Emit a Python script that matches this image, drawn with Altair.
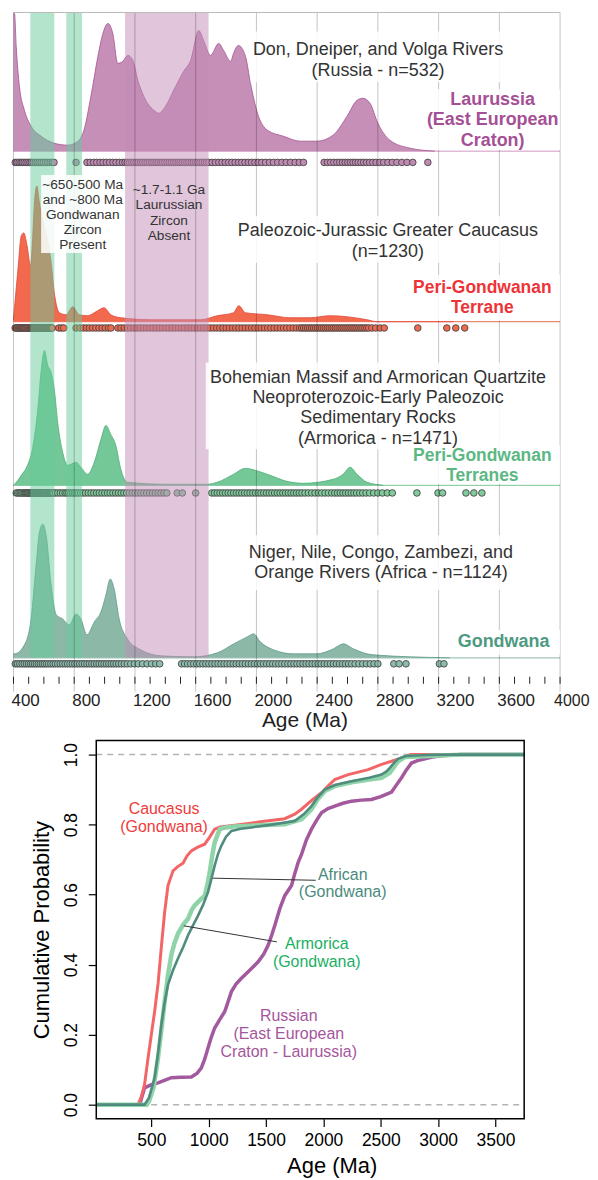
import altair as alt
import pandas as pd

FONT = "Liberation Sans"

# ============ TOP: detrital zircon age spectra (KDE) ============
# density heights are in the figure's own relative units
rus_age = [400, 407, 418, 439, 472, 516, 582, 667, 759, 825, 864, 910, 956, 989, 1022, 1054, 1087, 1120, 1153,
           1186, 1219, 1258, 1324, 1356, 1402, 1455, 1521, 1567, 1620, 1652, 1698, 1751, 1784, 1830, 1849, 1882,
           1928, 1961, 2007, 2072, 2177, 2289, 2400, 2505, 2597, 2663, 2702, 2748, 2800, 2879, 3011, 3175]
rus_den = [139, 138, 105, 65, 41, 25, 15, 8, 6, 10, 21, 55, 95, 118, 128, 118, 88, 90, 96,
           91, 71, 55, 41, 38, 45, 61, 80, 91, 121, 111, 96, 108, 101, 90, 98, 106,
           95, 68, 38, 21, 15, 10, 10, 16, 35, 51, 53, 48, 28, 11, 3, 0]

cau_age = [400, 429, 451, 468, 490, 512, 527, 538, 554, 571, 593, 615, 648, 669, 702, 746, 790, 833, 888, 954,
           997, 1041, 1107, 1304, 1632, 1742, 1849, 1884, 1928, 2070, 2223, 2354, 2485, 2728, 2794, 3300]
cau_den = [2, 52, 86, 89, 76, 56, 86, 119, 136, 119, 102, 89, 59, 29, 9, 7, 15, 7, 6, 11,
           14, 7, 4, 2, 2, 6, 9, 16, 9, 7, 4, 4, 6, 2, 0, 0]

arm_age = [400, 407, 451, 495, 527, 560, 581, 604, 626, 648, 669, 691, 724, 757, 812, 844, 888, 932, 976, 1009,
           1041, 1074, 1107, 1151, 1414, 1676, 1742, 1849, 1926, 2014, 2090, 2200, 2309, 2505, 2571, 2617, 2663,
           2729, 2835]
arm_den = [0, 1, 10, 21, 38, 76, 113, 135, 120, 113, 96, 63, 33, 20, 23, 18, 11, 23, 46, 60,
           51, 40, 16, 3, 1, 1, 3, 11, 17, 14, 10, 4, 2, 6, 11, 18, 11,
           3, 0]

afr_age = [400, 407, 472, 516, 549, 571, 593, 615, 648, 682, 724, 768, 812, 844, 884, 932, 976, 1009, 1037, 1063,
           1096, 1151, 1238, 1370, 1588, 1742, 1851, 1939, 1982, 2026, 2113, 2245, 2398, 2507, 2573, 2638, 2768,
           3274]
afr_den = [4, 4, 13, 39, 93, 126, 134, 123, 73, 43, 39, 33, 44, 39, 23, 36, 46, 63, 79, 69,
           39, 19, 8, 2, 1, 5, 14, 21, 24, 16, 8, 4, 4, 9, 14, 9, 3,
           0]

# individual grain ages shown as dots under each spectrum (as read from the rows)
rus_dots = [412, 424, 437, 449, 458, 470, 483, 495, 507, 518, 531, 544, 556, 569, 582, 596, 611, 626, 641, 655, 667,
            812,
            884, 905, 927, 948, 970, 990, 1012, 1033, 1055, 1075, 1097, 1118, 1135, 1150, 1164, 1179, 1193, 1208,
            1222, 1237, 1251, 1266, 1280, 1295, 1310, 1324, 1339, 1353, 1368, 1382, 1397, 1411, 1426, 1440, 1455,
            1469, 1484, 1498, 1513, 1527, 1542, 1556, 1571, 1585, 1600, 1614, 1629, 1643, 1658, 1672, 1687, 1708,
            1730, 1752, 1773, 1795, 1817, 1838, 1860, 1882, 1903, 1925, 1947, 1968, 1990, 2012, 2035, 2060, 2086,
            2112, 2140, 2168, 2196, 2225, 2255, 2283, 2310,
            2446, 2468, 2489, 2510, 2530, 2549, 2567, 2585, 2602, 2619, 2636, 2653, 2670, 2688, 2706, 2725, 2745,
            2766, 2788, 2812, 2838, 2866, 2895, 2925, 2958, 2992, 3030,
            3129]
cau_dots = [411, 417, 423, 429, 435, 441, 447, 453, 459, 465, 471, 477, 483, 489, 495, 501, 507, 513, 519, 525,
            531, 537, 543, 549, 555, 561, 567, 573, 579, 585, 591, 597, 603, 609, 615, 621, 627, 633, 639, 645,
            651, 655,
            698, 716, 731, 812, 838,
            860, 880, 900, 921, 942, 963, 984, 1005, 1025, 1042,
            1088, 1108, 1129, 1150, 1171, 1192, 1213, 1234, 1255, 1276, 1297, 1318, 1339, 1360, 1381, 1402, 1423,
            1444, 1465, 1486, 1507, 1528, 1549, 1570, 1591, 1612, 1633, 1654, 1675, 1696, 1717, 1738, 1759, 1780,
            1801, 1822, 1843, 1864, 1885, 1906, 1927, 1948, 1969, 1990, 2011, 2032, 2053, 2074, 2095, 2116, 2137,
            2158, 2179, 2200, 2221, 2242, 2263, 2284, 2298, 2311, 2324, 2337, 2350, 2363, 2376, 2389, 2402, 2415,
            2428, 2441, 2454, 2467, 2480, 2493, 2506, 2519, 2532, 2545, 2558, 2571, 2584, 2597, 2610, 2623, 2636,
            2649, 2662, 2675, 2688, 2701, 2714, 2727, 2740, 2760, 2785, 2815, 2842,
            3063, 3254, 3313, 3372]
arm_dots = [418, 428, 437, 446, 455, 463, 471, 478, 485, 491, 497, 503, 509, 515, 520, 525, 530, 535, 540, 545,
            550, 555, 560, 565, 570, 575, 580, 585, 590, 595, 600, 605, 610, 615, 620, 626, 632, 638, 644, 650,
            657, 665,
            677, 692, 708, 724, 740, 752, 764, 776, 788, 800, 812, 826, 842, 858,
            875, 893, 911, 929, 947, 965, 983, 1001, 1019, 1037, 1055, 1073, 1091, 1109, 1127, 1145,
            1163, 1182, 1201, 1220, 1239, 1258, 1277, 1296, 1315, 1334, 1353, 1372, 1391, 1410,
            1478, 1512, 1600,
            1706, 1724, 1742, 1760, 1778, 1796, 1814, 1832, 1850, 1868, 1886, 1904, 1922, 1940, 1958, 1976, 1994,
            2012, 2030, 2048, 2066, 2084, 2102, 2120, 2138, 2156, 2174, 2192, 2210, 2228, 2246, 2264, 2282, 2300,
            2320, 2342, 2364, 2386, 2408, 2430, 2452, 2474, 2496, 2516, 2534, 2552, 2570, 2588, 2606, 2624, 2642,
            2660, 2680, 2700, 2722, 2746, 2772, 2800, 2830, 2862, 2895,
            3057, 3196, 3226, 3380, 3432, 3485]
afr_dots = [412, 427, 442, 457, 471, 485, 499, 512, 525, 538, 551, 564, 577, 590, 603, 617, 631, 646, 661, 676,
            692, 708, 724, 740, 756, 772, 788, 804, 820, 836, 852, 868, 884, 900, 916, 932, 948, 964, 980, 996,
            1012, 1028, 1044, 1060, 1076, 1093, 1111, 1130, 1150, 1172, 1196, 1222, 1250, 1280, 1310, 1337, 1363,
            1507, 1527, 1547, 1567, 1587, 1607, 1627, 1647, 1667, 1687, 1707, 1727, 1747, 1767, 1787, 1807, 1827,
            1847, 1867, 1887, 1907, 1927, 1947, 1967, 1987, 2007, 2027, 2047, 2067, 2087, 2107, 2127, 2147, 2167,
            2187, 2207, 2227, 2247, 2267, 2287, 2307, 2327, 2347, 2367, 2387, 2407, 2427, 2447, 2467, 2487, 2507,
            2527, 2547, 2567, 2587, 2607, 2627, 2650, 2675, 2700, 2725, 2750, 2775, 2800,
            2905, 2940, 2985, 3205, 3235]

band_lo = [511, 748, 1135]
band_hi = [669, 851, 1685]
band_col = ["#66cc99", "#66cc99", "#c48bb5"]

major_ticks = [400, 800, 1200, 1600, 2000, 2400, 2800, 3200, 3600, 4000]
minor_ticks = list(range(400, 4001, 100))

# ============ BOTTOM: cumulative probability curves ============
cau_cdf_age = [20, 384, 410, 441, 470, 500, 529, 560, 590, 616, 645, 689, 730, 776, 810, 849, 900, 965, 1010, 1052,
               1100, 1227, 1450, 1663, 1750, 1809, 1900, 1983, 2040, 2099, 2216, 2390, 2507, 2623, 2700, 2760, 3750]
cau_cdf_p = [0, 0, 0.02, 0.058, 0.13, 0.2, 0.267, 0.35, 0.46, 0.55, 0.626, 0.668, 0.68, 0.69, 0.71, 0.725, 0.735,
             0.744, 0.765, 0.787, 0.793, 0.798, 0.808, 0.817, 0.83, 0.844, 0.87, 0.891, 0.91, 0.929, 0.943, 0.957,
             0.972, 0.984, 0.993, 1.0, 1.0]
arm_cdf_age = [20, 460, 480, 520, 558, 590, 616, 645, 674, 700, 733, 780, 820, 850, 878, 920, 965, 990, 1009, 1030,
               1052, 1096, 1150, 1227, 1450, 1663, 1809, 1896, 1950, 2012, 2099, 2245, 2400, 2507, 2579, 2620, 2652,
               2710, 2972, 3200, 3750]
arm_cdf_p = [0, 0, 0.01, 0.05, 0.133, 0.22, 0.295, 0.37, 0.427, 0.46, 0.489, 0.515, 0.531, 0.555, 0.569, 0.583,
             0.597, 0.63, 0.664, 0.71, 0.749, 0.787, 0.792, 0.795, 0.798, 0.801, 0.815, 0.844, 0.872, 0.896, 0.91,
             0.921, 0.929, 0.934, 0.948, 0.967, 0.981, 0.993, 0.997, 1.0, 1.0]
afr_cdf_age = [20, 441, 480, 529, 560, 587, 615, 645, 690, 733, 780, 820, 860, 907, 950, 994, 1020, 1052, 1080,
               1111, 1150, 1198, 1280, 1372, 1550, 1750, 1830, 1896, 1950, 2012, 2100, 2245, 2400, 2507, 2550, 2579,
               2620, 2652, 2720, 2900, 3100, 3750]
afr_cdf_p = [0, 0, 0.02, 0.077, 0.15, 0.228, 0.29, 0.342, 0.385, 0.418, 0.452, 0.484, 0.51, 0.54, 0.57, 0.607,
             0.64, 0.683, 0.715, 0.74, 0.765, 0.782, 0.788, 0.792, 0.8, 0.81, 0.83, 0.853, 0.878, 0.9, 0.913, 0.924,
             0.934, 0.943, 0.952, 0.962, 0.978, 0.988, 0.996, 0.999, 1.0, 1.0]
rus_cdf_age = [20, 398, 420, 441, 500, 558, 620, 674, 760, 849, 900, 936, 965, 994, 1020, 1052, 1100, 1140, 1170,
               1198, 1240, 1285, 1360, 1431, 1480, 1518, 1550, 1576, 1620, 1663, 1722, 1750, 1780, 1809, 1850, 1896,
               1940, 1983, 2040, 2099, 2170, 2245, 2330, 2419, 2500, 2594, 2640, 2681, 2720, 2768, 2820, 2885, 2950,
               3030, 3200, 3750]
rus_cdf_p = [0, 0, 0.025, 0.048, 0.057, 0.062, 0.07, 0.077, 0.078, 0.079, 0.09, 0.105, 0.13, 0.162, 0.19, 0.219,
             0.245, 0.266, 0.295, 0.323, 0.345, 0.361, 0.385, 0.408, 0.43, 0.455, 0.485, 0.512, 0.56, 0.597, 0.626,
             0.66, 0.692, 0.715, 0.755, 0.787, 0.812, 0.834, 0.846, 0.853, 0.861, 0.867, 0.87, 0.872, 0.88, 0.893,
             0.915, 0.934, 0.955, 0.976, 0.983, 0.988, 0.993, 0.997, 1.0, 1.0]

# ---------------- layout / style ----------------
TOP_W, TOP_H = 548, 681
X_MIN, X_MAX = 400, 4000
BAND_BOTTOM = 34

panels = [
    dict(ages=rus_age, dens=rus_den, dots=rus_dots, base=542, dot_y=530.7,
         fill="#c58fb8", line="#a4528f", base_col="#d7a5c9", dot_fill="#c08ab3"),
    dict(ages=cau_age, dens=cau_den, dots=cau_dots, base=371, dot_y=364.7,
         fill="#f2694e", line="#e2473a", base_col="#f08878", dot_fill="#ee6a4f"),
    dict(ages=arm_age, dens=arm_den, dots=arm_dots, base=207, dot_y=199.3,
         fill="#74c797", line="#4fae78", base_col="#8fcfa9", dot_fill="#7fcb9b"),
    dict(ages=afr_age, dens=afr_den, dots=afr_dots, base=34, dot_y=28,
         fill="#8cb8a8", line="#5f9a86", base_col="#9fc5b8", dot_fill="#8cbcae"),
]

xs = alt.Scale(domain=[X_MIN, X_MAX], nice=False, zero=False)
ys = alt.Scale(domain=[0, TOP_H], nice=False, zero=False)
x_axis = alt.Axis(values=major_ticks, format="d", grid=False, ticks=False, domain=False,
                  labelAlign="left", labelFont=FONT,
                  labelOffset={"condition": {"test": "datum.value == 4000", "value": -6.5}, "value": -2.5},
                  labelFontSize={"condition": {"test": "datum.value == 4000", "value": 16}, "value": 17},
                  labelColor="#222222", labelPadding=1, labelFlush=False, labelOverlap=False,
                  title="Age (Ma)", titleFont=FONT, titleFontSize=21, titleFontWeight="normal",
                  titleColor="#222222", titlePadding=1, titleX=291.7)


def X(f):
    return alt.X(f, type="quantitative", scale=xs, axis=x_axis)


def Y(f):
    return alt.Y(f, type="quantitative", scale=ys, axis=None)


layers = []
# baselines
for p in panels:
    d = pd.DataFrame({"x0": [X_MIN], "x1": [X_MAX], "y": [p["base"]]})
    layers.append(alt.Chart(d).mark_rule(color=p["base_col"], strokeWidth=1.3).encode(
        x=X("x0"), x2="x1", y=Y("y")))
# density areas
for p in panels:
    d = pd.DataFrame({"age": p["ages"], "den": p["dens"]})
    d["top"] = p["base"] + d["den"]
    d["bot"] = p["base"]
    layers.append(alt.Chart(d).mark_area(
        color=p["fill"], opacity=1, interpolate="monotone",
        line={"color": p["line"], "strokeWidth": 0.8}).encode(
        x=X("age"), y=Y("top"), y2=alt.Y2("bot")))
# grain dots
for p in panels:
    d = pd.DataFrame({"age": sorted(p["dots"])})
    d["y"] = p["dot_y"]
    layers.append(alt.Chart(d).mark_circle(
        size=44, opacity=1, color=p["dot_fill"], stroke="#474747", strokeWidth=0.9).encode(
        x=X("age"), y=Y("y")))
# shaded age bands
bd = pd.DataFrame({"lo": band_lo, "hi": band_hi, "col": band_col})
bd["y0"] = BAND_BOTTOM
bd["y1"] = TOP_H
layers.append(alt.Chart(bd).mark_rect(opacity=0.5).encode(
    x=X("lo"), x2="hi", y=Y("y0"), y2="y1", color=alt.Color("col", scale=None)))
# grid lines, top border, minor ticks
layers.append(alt.Chart(pd.DataFrame({"age": major_ticks})).mark_rule(
    color="#000000", opacity=0.24, strokeWidth=1).encode(x=X("age")))
layers.append(alt.Chart(pd.DataFrame({"x0": [X_MIN], "x1": [X_MAX], "y": [TOP_H]})).mark_rule(
    color="#bbbbbb", strokeWidth=1).encode(x=X("x0"), x2="x1", y=Y("y")))
mt = pd.DataFrame({"age": minor_ticks})
mt["y0"] = 8
mt["y1"] = 15
layers.append(alt.Chart(mt).mark_rule(color="#222222", strokeWidth=1).encode(
    x=X("age"), y=Y("y0"), y2="y1"))

# label boxes (x0, x1, y0, y1)
boxes = [
    (1962, 3708, 611, 662), (3182, 4000, 543, 604), (582, 1121, 440, 518),
    (1842, 3897, 430, 477), (3030, 4000, 372, 418), (1666, 3951, 243, 330),
    (3089, 4000, 208, 247), (1896, 3734, 102, 157), (3319, 4000, 37, 62),
]
bx = pd.DataFrame(boxes, columns=["x0", "x1", "y0", "y1"])
layers.append(alt.Chart(bx).mark_rect(color="white", opacity=0.85).encode(
    x=X("x0"), x2="x1", y=Y("y0"), y2="y1"))

GRAY = "#333333"
notes = [
    # x, y, text, color, size, weight
    (2801, 643, "Don, Dneiper, and Volga Rivers", GRAY, 18, "normal"),
    (2801, 622, "(Russia - n=532)", GRAY, 18, "normal"),
    (3556, 593, "Laurussia", "#a54f94", 18, "bold"),
    (3556, 573, "(East European", "#a54f94", 18, "bold"),
    (3556, 552, "Craton)", "#a54f94", 18, "bold"),
    (856, 508.3, "~650-500 Ma", GRAY, 13.7, "normal"),
    (856, 493.3, "and ~800 Ma", GRAY, 13.7, "normal"),
    (856, 478.3, "Gondwanan", GRAY, 13.7, "normal"),
    (856, 462.7, "Zircon", GRAY, 13.7, "normal"),
    (856, 447.7, "Present", GRAY, 13.7, "normal"),
    (1424, 503.3, "~1.7-1.1 Ga", GRAY, 13.7, "normal"),
    (1424, 487.7, "Laurussian", GRAY, 13.7, "normal"),
    (1424, 472.3, "Zircon", GRAY, 13.7, "normal"),
    (1424, 457.3, "Absent", GRAY, 13.7, "normal"),
    (2866, 461.7, "Paleozoic-Jurassic Greater Caucasus", GRAY, 18, "normal"),
    (2866, 441, "(n=1230)", GRAY, 18, "normal"),
    (3488, 405, "Peri-Gondwanan", "#ee3338", 17.5, "bold"),
    (3488, 385, "Terrane", "#ee3338", 17.5, "bold"),
    (2801, 315, "Bohemian Massif and Armorican Quartzite", GRAY, 18, "normal"),
    (2801, 294.3, "Neoproterozoic-Early Paleozoic", GRAY, 18, "normal"),
    (2801, 274, "Sedimentary Rocks", GRAY, 18, "normal"),
    (2801, 253.3, "(Armorica - n=1471)", GRAY, 18, "normal"),
    (3488, 236, "Peri-Gondwanan", "#5bb883", 17.5, "bold"),
    (3488, 216, "Terranes", "#5bb883", 17.5, "bold"),
    (2820, 139.3, "Niger, Nile, Congo, Zambezi, and", GRAY, 18, "normal"),
    (2820, 119.3, "Orange Rivers (Africa - n=1124)", GRAY, 18, "normal"),
    (3628, 50, "Gondwana", "#4d9a82", 18, "bold"),
]
nd = pd.DataFrame(notes, columns=["x", "y", "text", "col", "size", "weight"])
for w in ["normal", "bold"]:
    sub = nd[nd["weight"] == w]
    layers.append(alt.Chart(sub).mark_text(font=FONT, fontWeight=w, align="center", baseline="middle").encode(
        x=X("x"), y=Y("y"), text="text", color=alt.Color("col", scale=None),
        size=alt.Size("size", scale=None)))

top = alt.layer(*layers).properties(width=TOP_W, height=TOP_H)

# ---------------- bottom chart ----------------
BX_MIN, BX_MAX = 20, 3750
BY_MIN, BY_MAX = -0.04, 1.04
BOT_H = 379
xbs = alt.Scale(domain=[BX_MIN, BX_MAX], range=[83, 512], nice=False, zero=False)
ybs = alt.Scale(domain=[BY_MIN, BY_MAX], nice=False, zero=False)
xb_axis = alt.Axis(values=[500, 1000, 1500, 2000, 2500, 3000, 3500], format="d", grid=False, domain=False,
                   ticks=True, tickColor="black", tickSize=8, tickWidth=1.2,
                   labelFont=FONT, labelFontSize=17.5, labelColor="black", labelPadding=5, labelFlush=False,
                   title="Age (Ma)", titleFont=FONT, titleFontSize=22, titleFontWeight="normal",
                   titleColor="black", titlePadding=6, titleX=319)
yb_axis = alt.Axis(values=[0, 0.2, 0.4, 0.6, 0.8, 1.0], format=".1f", orient="left", offset=-83,
                   grid=False, domain=False, ticks=True, tickColor="black", tickSize=8, tickWidth=1.2,
                   labelAngle=270, labelAlign="center", labelBaseline="bottom",
                   labelFont=FONT, labelFontSize=17.5, labelColor="black", labelPadding=8, labelFlush=False,
                   title="Cumulative Probability", titleFont=FONT, titleFontSize=22, titleFontWeight="normal",
                   titleColor="black", titlePadding=9)


def XB(f):
    return alt.X(f, type="quantitative", scale=xbs, axis=xb_axis)


def YB(f):
    return alt.Y(f, type="quantitative", scale=ybs, axis=yb_axis)


bl = []
dash = pd.DataFrame({"x0": [BX_MIN, BX_MIN], "x1": [BX_MAX, BX_MAX], "y": [0, 1]})
bl.append(alt.Chart(dash).mark_rule(color="#b3b3b3", strokeWidth=1.5, strokeDash=[6, 5]).encode(
    x=XB("x0"), x2="x1", y=YB("y")))

series = [
    (rus_cdf_age, rus_cdf_p, "#a3599d", 3.5),
    (cau_cdf_age, cau_cdf_p, "#f26667", 3),
    (arm_cdf_age, arm_cdf_p, "#8fd4a9", 4.5),
    (afr_cdf_age, afr_cdf_p, "#4f8c7e", 2.6),
]
for a, pr, c, w in series:
    d = pd.DataFrame({"age": a, "p": pr})
    bl.append(alt.Chart(d).mark_line(color=c, strokeWidth=w).encode(x=XB("age"), y=YB("p")))

lead = pd.DataFrame({"x0": [1035, 783], "x1": [1933, 1594], "y0": [0.647, 0.511], "y1": [0.641, 0.465]})
bl.append(alt.Chart(lead).mark_rule(color="#333333", strokeWidth=1).encode(
    x=XB("x0"), x2="x1", y=YB("y0"), y2="y1"))

frame = pd.DataFrame({"x0": [BX_MIN], "x1": [BX_MAX], "y0": [BY_MIN], "y1": [BY_MAX]})
bl.append(alt.Chart(frame).mark_rect(fillOpacity=0, stroke="black", strokeWidth=1.5).encode(
    x=XB("x0"), x2="x1", y=YB("y0"), y2="y1"))

bnotes = [
    (611, 0.844, "Caucasus", "#ee3b3b"),
    (611, 0.792, "(Gondwana)", "#ee3b3b"),
    (2168, 0.655, "African", "#4a8a7c"),
    (2168, 0.607, "(Gondwana)", "#4a8a7c"),
    (1942, 0.459, "Armorica", "#1aaf63"),
    (1942, 0.408, "(Gondwana)", "#1aaf63"),
    (1698, 0.254, "Russian", "#a5559c"),
    (1698, 0.202, "(East European", "#a5559c"),
    (1698, 0.150, "Craton - Laurussia)", "#a5559c"),
]
bn = pd.DataFrame(bnotes, columns=["x", "y", "text", "col"])
bl.append(alt.Chart(bn).mark_text(font=FONT, fontSize=16, align="center", baseline="middle").encode(
    x=XB("x"), y=YB("y"), text="text", color=alt.Color("col", scale=None)))

bottom = alt.layer(*bl).properties(width=TOP_W, height=BOT_H)

chart = alt.vconcat(top, bottom, spacing=9).properties(
    padding={"left": 1.5, "top": 1, "right": 0, "bottom": 0}
).configure_view(strokeWidth=0)

chart.save("out.html", embed_options={"renderer": "svg", "actions": False})
